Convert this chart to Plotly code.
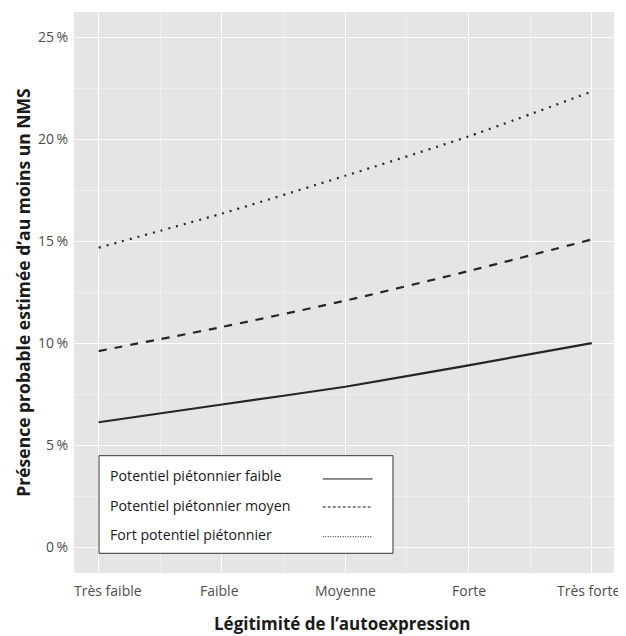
import plotly.graph_objects as go

# ---- data ----
categories = ["Très faible", "Faible", "Moyenne", "Forte", "Très forte"]
x_pos = [1, 2, 3, 4, 5]
faible = [6.14, 7.01, 7.88, 8.93, 10.02]
moyen = [9.63, 10.81, 12.10, 13.55, 15.10]
fort = [14.70, 16.37, 18.22, 20.15, 22.35]
series_names = ["Potentiel piétonnier faible", "Potentiel piétonnier moyen", "Fort potentiel piétonnier"]
y_ticks = [0, 5, 10, 15, 20, 25]
y_ticktext = ["0\u2009%", "5\u2009%", "10\u2009%", "15\u2009%", "20\u2009%", "25\u2009%"]

FONT = "Open Sans"
LINE_COL = "#262626"

fig = go.Figure()
dashes = ["solid", "8px,8px", "2px,6px"]
for vals, name, d in zip([faible, moyen, fort], series_names, dashes):
    fig.add_trace(go.Scatter(
        x=x_pos, y=vals, mode="lines", name=name,
        line=dict(color=LINE_COL, width=2.2, dash=d, shape="spline", smoothing=0.6),
        showlegend=False,
    ))

# page body has an 8px default margin: compensate so the panel lands at 74..614 x 12..573
fig.update_layout(
    width=618, height=628,
    margin=dict(l=66, r=12, t=4, b=63),
    paper_bgcolor="white",
    plot_bgcolor="#E5E5E5",
    font=dict(family=FONT, size=14, color="#4d4d4d"),
)
fig.update_xaxes(
    range=[0.8, 5.18], automargin=False,
    tickmode="array", tickvals=x_pos, ticktext=[""] * len(x_pos),
    showgrid=True, gridcolor="white", gridwidth=1.4,
    minor=dict(dtick=0.5, tick0=0.5, showgrid=True, gridcolor="#EFEFEF", gridwidth=0.7),
    zeroline=False, showline=False, ticks="",
)
fig.update_yaxes(
    range=[-1.25, 26.25], automargin=False,
    tickmode="array", tickvals=y_ticks, ticktext=y_ticktext,
    showgrid=True, gridcolor="white", gridwidth=1.4,
    minor=dict(dtick=2.5, tick0=2.5, showgrid=True, gridcolor="#EFEFEF", gridwidth=0.7),
    zeroline=False, showline=False, ticks="", ticklabelstandoff=5,
    tickfont=dict(family=FONT, size=14, color="#4d4d4d"),
)

# x tick labels (end labels nudged as in the reference)
label_shift = [9, -2, 0, 0, -3]
for xv, lab, sh in zip(x_pos, categories, label_shift):
    fig.add_annotation(text=lab, xref="x", yref="paper", x=xv, y=-0.032, xshift=sh,
                       showarrow=False, xanchor="center", yanchor="middle",
                       font=dict(family=FONT, size=14, color="#4d4d4d"))

# axis titles
fig.add_annotation(text="Légitimité de l’autoexpression", xref="paper", yref="paper",
                   x=0.497, y=-0.090, showarrow=False, xanchor="center", yanchor="middle",
                   font=dict(family=FONT, size=17, color="#1a1a1a", weight="bold"))
fig.add_annotation(text="Présence probable estimée d’au moins un NMS", xref="paper", yref="paper",
                   x=-0.096, y=0.5, showarrow=False, textangle=-90, xanchor="center", yanchor="middle",
                   font=dict(family=FONT, size=17.5, color="#1a1a1a", weight="bold"))

# custom legend box
fig.add_shape(type="rect", xref="paper", yref="paper", x0=0.0463, x1=0.5907, y0=0.0351, y1=0.2091,
              fillcolor="white", line=dict(color="#333333", width=1))
text_y = [0.1745, 0.1195, 0.0690]
line_y = [0.1676, 0.1176, 0.0647]
leg_dash = ["solid", "3px,2px", "1px,1.5px"]
for name, ty, ly, d in zip(series_names, text_y, line_y, leg_dash):
    fig.add_annotation(text=name, xref="paper", yref="paper", x=0.0630, y=ty, showarrow=False,
                       xanchor="left", yanchor="middle",
                       font=dict(family=FONT, size=14.2, color="#1a1a1a"))
    fig.add_shape(type="line", xref="paper", yref="paper", x0=0.4606, x1=0.5531, y0=ly, y1=ly,
                  line=dict(color="#1a1a1a", width=1, dash=d))

fig.write_html("out.html")
